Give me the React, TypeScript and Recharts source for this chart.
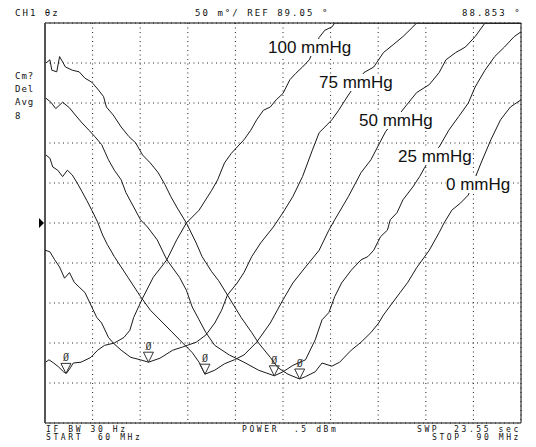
import { ComposedChart, Line, XAxis, YAxis, CartesianGrid, ReferenceArea, ReferenceDot, ReferenceLine } from "recharts"

// sweep: START 60 MHz / STOP 90 MHz, 3 MHz per division
const freqTicks = [63, 66, 69, 72, 75, 78, 81, 84, 87]
// phase: REF 89.05 deg, 50 mdeg per division
const phaseTicks = [88.85, 88.9, 88.95, 89.0, 89.05, 89.1, 89.15, 89.2, 89.25]
const refPhase = 89.05

const freq100 = [60.04, 60.25, 60.55, 60.86, 61.17, 61.35, 61.6, 61.78, 62.27, 62.89, 63.32, 63.75, 64.37, 64.98, 65.35, 65.59, 66.15, 66.82, 67.68, 68.3, 68.91, 69.71, 70.51, 70.88, 71.31, 71.74, 72.11, 72.54, 72.97, 73.34, 73.77, 74.2, 74.57, 75.0, 75.43, 75.8, 76.23, 76.66, 77.28, 77.64, 78.08, 78.26, 90.0]
const phase100 = [88.876, 88.879, 88.875, 88.87, 88.864, 88.862, 88.869, 88.875, 88.876, 88.882, 88.891, 88.897, 88.9, 88.907, 88.916, 88.932, 88.956, 88.982, 89.004, 89.029, 89.05, 89.066, 89.091, 89.104, 89.125, 89.137, 89.145, 89.154, 89.166, 89.179, 89.191, 89.195, 89.204, 89.212, 89.229, 89.237, 89.245, 89.254, 89.282, 89.291, 89.295, 89.3, 89.3]

const freq75 = [60.0, 60.31, 60.61, 60.92, 61.23, 61.54, 61.84, 62.15, 62.52, 62.95, 63.26, 63.57, 64.0, 64.3, 64.8, 65.41, 66.02, 66.52, 67.25, 68.05, 68.67, 69.53, 70.14, 70.7, 71.13, 71.5, 72.11, 72.54, 73.03, 73.59, 74.39, 75.0, 75.62, 76.23, 76.85, 77.28, 77.64, 78.08, 78.51, 79.12, 80.1, 80.72, 81.33, 81.95, 82.56, 83.18, 83.42, 90.0]
const phase75 = [89.016, 89.014, 89.004, 88.995, 88.981, 88.988, 88.976, 88.97, 88.963, 88.945, 88.932, 88.925, 88.907, 88.9, 88.891, 88.882, 88.879, 88.876, 88.881, 88.891, 88.895, 88.901, 88.91, 88.925, 88.941, 88.96, 88.975, 88.988, 89.008, 89.025, 89.045, 89.063, 89.083, 89.108, 89.141, 89.163, 89.17, 89.179, 89.191, 89.21, 89.238, 89.245, 89.263, 89.273, 89.283, 89.295, 89.3, 89.3]

const freq50 = [60.06, 60.31, 60.49, 60.8, 61.11, 61.41, 61.72, 62.03, 62.34, 62.64, 62.95, 63.32, 63.63, 63.93, 64.37, 64.8, 65.23, 66.02, 66.64, 67.44, 67.99, 68.48, 69.28, 69.71, 70.08, 70.7, 71.31, 71.93, 72.54, 73.34, 74.2, 75.0, 75.62, 76.42, 77.28, 77.89, 78.26, 79.12, 79.92, 80.54, 81.46, 82.69, 83.42, 84.22, 84.84, 85.27, 85.88, 86.5, 87.11, 87.73, 90.0]
const phase50 = [89.135, 89.131, 89.12, 89.116, 89.108, 89.116, 89.11, 89.1, 89.089, 89.078, 89.066, 89.051, 89.035, 89.023, 89.008, 88.995, 88.982, 88.958, 88.941, 88.925, 88.914, 88.904, 88.888, 88.876, 88.861, 88.866, 88.874, 88.879, 88.885, 88.901, 88.925, 88.954, 88.975, 88.995, 89.016, 89.041, 89.054, 89.083, 89.113, 89.129, 89.164, 89.195, 89.213, 89.223, 89.238, 89.254, 89.263, 89.27, 89.283, 89.3, 89.3]

const freq25 = [60.06, 60.37, 60.68, 61.11, 61.54, 61.91, 62.34, 62.77, 63.14, 63.57, 64.0, 64.37, 64.8, 65.1, 65.59, 66.02, 66.46, 67.07, 67.68, 68.48, 68.91, 69.28, 69.71, 70.14, 70.7, 71.62, 72.54, 73.46, 74.45, 75.0, 75.62, 76.42, 77.03, 77.46, 77.89, 78.26, 78.69, 79.3, 79.92, 80.35, 80.72, 81.15, 81.58, 81.76, 82.19, 82.56, 83.18, 83.61, 83.92, 84.53, 84.84, 85.45, 86.07, 86.68, 87.11, 87.73, 88.34, 88.96, 89.57, 90.0]
const phase25 = [89.206, 89.201, 89.193, 89.201, 89.194, 89.185, 89.175, 89.166, 89.158, 89.148, 89.129, 89.116, 89.104, 89.088, 89.07, 89.054, 89.045, 89.029, 89.004, 88.982, 88.966, 88.945, 88.929, 88.913, 88.897, 88.885, 88.876, 88.866, 88.859, 88.864, 88.872, 88.879, 88.904, 88.929, 88.938, 88.958, 88.975, 88.991, 89.004, 89.008, 89.016, 89.033, 89.041, 89.054, 89.063, 89.079, 89.095, 89.108, 89.119, 89.139, 89.145, 89.166, 89.183, 89.2, 89.22, 89.241, 89.258, 89.27, 89.283, 89.289]

const freq0 = [60.06, 60.31, 60.43, 60.74, 60.92, 61.29, 61.72, 62.15, 62.52, 62.95, 63.38, 63.69, 63.87, 64.3, 64.8, 65.29, 65.72, 66.15, 66.64, 67.13, 67.56, 67.93, 68.3, 68.91, 69.53, 69.9, 70.51, 70.94, 71.5, 72.36, 73.03, 73.46, 74.2, 74.69, 75.31, 76.05, 76.42, 77.03, 77.46, 78.08, 78.57, 79.3, 79.92, 80.54, 81.03, 81.33, 81.89, 82.38, 82.87, 83.42, 84.22, 84.84, 85.15, 85.64, 86.19, 86.68, 87.48, 88.1, 88.71, 89.33, 90.0]
const phase0 = [89.25, 89.254, 89.241, 89.239, 89.258, 89.245, 89.241, 89.239, 89.231, 89.226, 89.216, 89.208, 89.195, 89.185, 89.17, 89.158, 89.15, 89.135, 89.125, 89.113, 89.098, 89.083, 89.07, 89.05, 89.025, 89.008, 88.989, 88.978, 88.96, 88.932, 88.913, 88.9, 88.882, 88.869, 88.861, 88.855, 88.858, 88.864, 88.875, 88.871, 88.876, 88.891, 88.901, 88.913, 88.925, 88.935, 88.95, 88.963, 88.976, 88.994, 89.016, 89.038, 89.05, 89.066, 89.075, 89.085, 89.125, 89.154, 89.179, 89.195, 89.204]

// minimum markers
const markerFreq = [61.32, 66.52, 70.08, 74.45, 76.05]
const markerPhase = [88.862, 88.876, 88.861, 88.859, 88.855]

const traces = [
  { name: "100 mmHg", freq: freq100, phase: phase100 },
  { name: "75 mmHg", freq: freq75, phase: phase75 },
  { name: "50 mmHg", freq: freq50, phase: phase50 },
  { name: "25 mmHg", freq: freq25, phase: phase25 },
  { name: "0 mmHg", freq: freq0, phase: phase0 },
]

// where the pressure labels sit over the traces
const labelPos = [
  { left: 268, top: 39 },
  { left: 319, top: 74 },
  { left: 359, top: 112 },
  { left: 398, top: 148 },
  { left: 446, top: 176 },
]

const mono = {
  position: "absolute" as const,
  fontFamily: "'DejaVu Sans Mono', monospace",
  fontSize: 9,
  lineHeight: "7px",
  letterSpacing: 2.05,
  whiteSpace: "pre" as const,
  color: "#111",
}

const foot = { ...mono, fontSize: 8, letterSpacing: 2.6 }

function MarkerShape(props: any) {
  const { cx, cy } = props
  if (cx == null || cy == null) return null
  return (
    <g>
      <polygon points={`${cx - 5},${cy - 10} ${cx + 5},${cy - 10} ${cx},${cy}`} fill="none" stroke="#333" strokeWidth={1} />
      <text x={cx} y={cy - 12} textAnchor="middle" fontFamily="'DejaVu Sans Mono', monospace" fontSize={10} fill="#333">
        Ø
      </text>
    </g>
  )
}

function RefArrow(props: any) {
  const { cx, cy } = props
  if (cx == null || cy == null) return null
  return <polygon points={`${cx - 6},${cy - 5} ${cx - 6},${cy + 5} ${cx - 1},${cy}`} fill="#000" />
}

export default function App() {
  return (
    <div style={{ position: "absolute", left: 0, top: 0, width: 536, height: 447, background: "#fff", overflow: "hidden" }}>
      <ComposedChart width={536} height={447} margin={{ top: 23, right: 15, bottom: 24, left: 45 }}>
        <XAxis dataKey="f" type="number" domain={[60, 90]} ticks={freqTicks} allowDataOverflow hide />
        <YAxis type="number" domain={[88.8, 89.3]} ticks={phaseTicks} allowDataOverflow hide />
        <CartesianGrid stroke="#222" strokeDasharray="1 3.5" />
        <ReferenceArea x1={60} x2={90} y1={88.8} y2={89.3} fill="none" stroke="#111" strokeWidth={1} ifOverflow="visible" />
        <ReferenceLine x={60} stroke="#555" strokeWidth={2} ifOverflow="visible" />
        {traces.map((t) => (
          <Line
            key={t.name}
            name={t.name}
            data={t.freq.map((f, i) => ({ f, v: t.phase[i] }))}
            dataKey="v"
            type="linear"
            stroke="#1a1a1a"
            strokeWidth={1}
            dot={false}
            isAnimationActive={false}
          />
        ))}
        {markerFreq.map((f, i) => (
          <ReferenceDot key={i} x={f} y={markerPhase[i]} ifOverflow="visible" shape={(p: any) => <MarkerShape {...p} />} />
        ))}
        <ReferenceDot x={60} y={refPhase} ifOverflow="visible" shape={(p: any) => <RefArrow {...p} />} />
      </ComposedChart>

      {traces.map((t, i) => (
        <div
          key={t.name}
          style={{
            position: "absolute",
            left: labelPos[i].left,
            top: labelPos[i].top,
            fontFamily: "'Liberation Sans', Arial, sans-serif",
            fontSize: 17,
            lineHeight: "17px",
            background: "#fff",
            color: "#111",
            whiteSpace: "pre",
          }}
        >
          {t.name}
        </div>
      ))}

      <div style={{ ...mono, left: 15, top: 10 }}>CH1 θz</div>
      <div style={{ ...mono, left: 195, top: 10 }}>50 m°/ REF 89.05 °</div>
      <div style={{ ...mono, left: 462, top: 10 }}>88.853 °</div>

      <div style={{ ...mono, left: 15, top: 73, letterSpacing: 1 }}>Cm?</div>
      <div style={{ ...mono, left: 15, top: 86, letterSpacing: 1 }}>Del</div>
      <div style={{ ...mono, left: 15, top: 99, letterSpacing: 1 }}>Avg</div>
      <div style={{ ...mono, left: 15, top: 113, letterSpacing: 1 }}>8</div>

      <div style={{ ...foot, left: 46, top: 426 }}>IF BW 30 Hz</div>
      <div style={{ ...foot, left: 46, top: 434 }}>START  60 MHz</div>
      <div style={{ ...foot, left: 242, top: 426 }}>POWER  .5 dBm</div>
      <div style={{ ...foot, left: 417, top: 426 }}>SWP  23.55 sec</div>
      <div style={{ ...foot, left: 432, top: 434 }}>STOP  90 MHz</div>
    </div>
  )
}
